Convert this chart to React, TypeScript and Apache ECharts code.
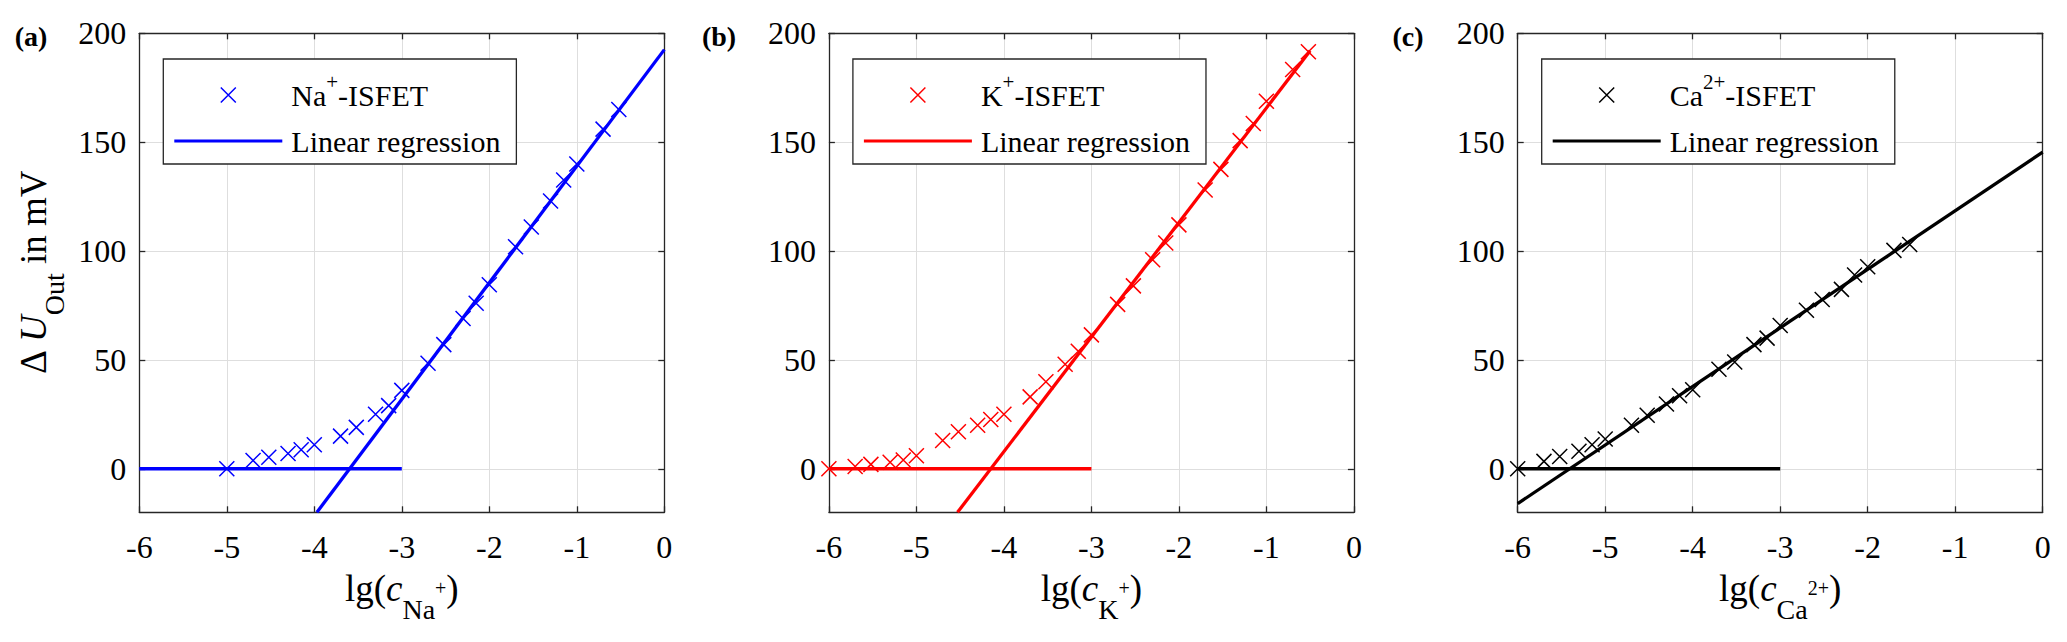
import React, { useEffect, useRef } from 'react';
import * as echarts from 'echarts';

// ---------- data ----------
const naX = [-5, -4.7, -4.52, -4.3, -4.15, -4, -3.7, -3.52, -3.3, -3.15, -3, -2.7, -2.52, -2.3, -2.15, -2, -1.7, -1.52, -1.3, -1.15, -1, -0.7, -0.52];
const naY = [0, 3.8, 5.3, 7, 8.7, 11, 15, 19, 25, 29, 36, 48.5, 57, 69, 76, 84.5, 102, 111, 123, 132.6, 140, 156, 165];

const kX = [-6, -5.7, -5.52, -5.3, -5.15, -5, -4.7, -4.52, -4.3, -4.15, -4, -3.7, -3.52, -3.3, -3.15, -3, -2.7, -2.52, -2.3, -2.15, -2, -1.7, -1.52, -1.3, -1.15, -1, -0.7, -0.52];
const kY = [0, 1, 2, 3, 4, 6, 13, 17, 20, 22.6, 25, 33, 40, 48, 54, 61.5, 75.5, 84, 96, 103.7, 112, 128, 137.5, 150.7, 158.6, 168.8, 183.4, 191.5];

const caX = [-6, -5.7, -5.52, -5.3, -5.15, -5, -4.7, -4.52, -4.3, -4.15, -4, -3.7, -3.52, -3.3, -3.15, -3, -2.7, -2.52, -2.3, -2.15, -2, -1.7, -1.52];
const caY = [0, 3.4, 5.6, 8, 11, 13.7, 20, 24.6, 29.7, 33.5, 36.3, 45.7, 49, 57, 60, 65.8, 72.8, 77.7, 82.4, 89, 92.8, 100.3, 103];

// regression line end points
const naFitX = [-3.97, 0];
const naFitY = [-20, 192.5];
const kFitX = [-4.53, -0.5];
const kFitY = [-20, 192];
const caFitX = [-6, 0];
const caFitY = [-16, 145.4];

// horizontal zero line
const baseX = [-6, -3];
const baseY = [0, 0];

// axes
const xMin = -6;
const xMax = 0;
const xStep = 1;
const yMin = -20;
const yMax = 200;
const yTicks = [0, 50, 100, 150, 200];

const panelLabels = ['(a)', '(b)', '(c)'];
const scatterNames = ['Na+-ISFET', 'K+-ISFET', 'Ca2+-ISFET'];
const fitNames = ['Linear regression (Na)', 'Linear regression (K)', 'Linear regression (Ca)'];
const baseNames = ['Zero line (Na)', 'Zero line (K)', 'Zero line (Ca)'];
const legendTexts = ['{m0|Na}{p|+}{m|-ISFET}', '{m0|K}{p|+}{m|-ISFET}', '{m0|Ca}{p|2+}{m|-ISFET}'];
const fitText = '{m0|Linear regression}';
const xTitles = [
  '{m|lg(}{i|c}{s|Na}{ss|+}{m|)}',
  '{m|lg(}{i|c}{s|K}{ss|+}{m|)}',
  '{m|lg(}{i|c}{s|Ca}{ss|2+}{m|)}',
];
const yTitle = '{m|Δ }{i|U}{s|Out}{m| in mV}';
const colors = ['#0000ff', '#ff0000', '#000000'];

// ---------- layout / style ----------
const FONT = '"Liberation Serif", "Times New Roman", serif';
const AX = '#262626';
const GRID = '#dedede';
const gridLefts = [139.3, 828.9, 1517.7];
const gridTop = 33.3;
const gridW = 525;
const gridH = 479;
const labelCenters = [31, 719, 1408];
const XPATH = 'path://M0,0L10,10M10,0L0,10';
const BARPATH = 'path://M0,0H100V3H0Z';

const pairs = (xs: number[], ys: number[]) => xs.map((x, k) => [x, ys[k]]);

const titleRich = {
  m: { fontSize: 37, lineHeight: 48, fontFamily: FONT, color: '#000' },
  i: { fontSize: 37, lineHeight: 48, fontFamily: FONT, fontStyle: 'italic', color: '#000' },
  s: { fontSize: 28, lineHeight: 48, fontFamily: FONT, color: '#000', padding: [42, 0, 0, 0] },
  ss: { fontSize: 20, lineHeight: 48, fontFamily: FONT, color: '#000' },
};

const legendRich = {
  m0: { fontSize: 30, lineHeight: 36, fontFamily: FONT, color: '#000', padding: [0, 0, 0, 4] },
  m: { fontSize: 30, lineHeight: 36, fontFamily: FONT, color: '#000' },
  p: { fontSize: 21, lineHeight: 36, fontFamily: FONT, color: '#000', padding: [0, 0, 27, 0] },
};

function buildOption() {
  const scatterData = [pairs(naX, naY), pairs(kX, kY), pairs(caX, caY)];
  const fitData = [pairs(naFitX, naFitY), pairs(kFitX, kFitY), pairs(caFitX, caFitY)];
  const baseData = pairs(baseX, baseY);

  const grid: any[] = [];
  const xAxis: any[] = [];
  const yAxis: any[] = [];
  const series: any[] = [];
  const legend: any[] = [];
  const graphic: any[] = [];

  const axisLine = { show: true, onZero: false, lineStyle: { color: AX, width: 1.3 } };
  const tickStyle = { color: AX, width: 1.3 };

  for (let i = 0; i < 3; i++) {
    grid.push({
      left: gridLefts[i],
      top: gridTop,
      width: gridW,
      height: gridH,
      containLabel: false,
      outerBoundsMode: 'none',
    });

    xAxis.push({
      type: 'value',
      gridIndex: i,
      position: 'bottom',
      min: xMin,
      max: xMax,
      interval: xStep,
      axisLine,
      axisTick: { show: true, inside: true, length: 6, lineStyle: tickStyle },
      axisLabel: { show: true, fontSize: 32, lineHeight: 32, fontFamily: FONT, color: '#000', margin: 19 },
      splitLine: { show: true, lineStyle: { color: GRID, width: 1 } },
      name: xTitles[i],
      nameLocation: 'middle',
      nameGap: 52,
      nameMoveOverlap: false,
      nameTextStyle: { fontFamily: FONT, fontSize: 37, lineHeight: 48, color: '#000', rich: titleRich },
    });
    xAxis.push({
      type: 'value',
      gridIndex: i,
      position: 'top',
      min: xMin,
      max: xMax,
      interval: xStep,
      axisLine,
      axisTick: { show: true, inside: true, length: 6, lineStyle: tickStyle },
      axisLabel: { show: false },
      splitLine: { show: false },
    });

    yAxis.push({
      type: 'value',
      gridIndex: i,
      position: 'left',
      min: yMin,
      max: yMax,
      axisLine,
      axisTick: { show: true, inside: true, length: 6, lineStyle: tickStyle, customValues: yTicks },
      axisLabel: { show: true, fontSize: 32, fontFamily: FONT, color: '#000', margin: 13, customValues: yTicks },
      splitLine: { show: true, lineStyle: { color: GRID, width: 1 } },
      name: i === 0 ? yTitle : '',
      nameLocation: 'middle',
      nameRotate: 90,
      nameGap: 82,
      nameMoveOverlap: false,
      nameTextStyle: { fontFamily: FONT, fontSize: 37, lineHeight: 48, color: '#000', rich: titleRich },
    });
    yAxis.push({
      type: 'value',
      gridIndex: i,
      position: 'right',
      min: yMin,
      max: yMax,
      axisLine,
      axisTick: { show: true, inside: true, length: 6, lineStyle: tickStyle, customValues: yTicks },
      axisLabel: { show: false, customValues: yTicks },
      splitLine: { show: false },
    });

    const c = colors[i];
    series.push({
      type: 'scatter',
      name: scatterNames[i],
      xAxisIndex: 2 * i,
      yAxisIndex: 2 * i,
      data: scatterData[i],
      symbol: XPATH,
      symbolSize: 15,
      itemStyle: { color: c, borderColor: c, borderWidth: 1.5, opacity: 1 },
      z: 3,
    });
    series.push({
      type: 'line',
      name: fitNames[i],
      xAxisIndex: 2 * i,
      yAxisIndex: 2 * i,
      data: fitData[i],
      symbol: 'none',
      clip: true,
      itemStyle: { color: c },
      lineStyle: { color: c, width: 3.3 },
      z: 4,
    });
    series.push({
      type: 'line',
      name: baseNames[i],
      xAxisIndex: 2 * i,
      yAxisIndex: 2 * i,
      data: baseData,
      symbol: 'none',
      clip: true,
      itemStyle: { color: c },
      lineStyle: { color: c, width: 3.3 },
      z: 4,
    });

    const names: Record<string, string> = {};
    names[scatterNames[i]] = legendTexts[i];
    names[fitNames[i]] = fitText;
    legend.push({
      show: true,
      left: gridLefts[i] + 24,
      top: 59,
      orient: 'vertical',
      padding: [12, 16, 5, 11],
      itemGap: 4,
      itemWidth: 108,
      itemHeight: 15,
      backgroundColor: '#ffffff',
      borderColor: AX,
      borderWidth: 1.3,
      borderRadius: 0,
      selectedMode: false,
      symbolKeepAspect: true,
      textStyle: { fontFamily: FONT, fontSize: 30, lineHeight: 36, color: '#000', rich: legendRich },
      formatter: (name: string) => names[name] ?? name,
      data: [
        { name: scatterNames[i], icon: XPATH, itemStyle: { color: c, borderColor: c, borderWidth: 1.5 } },
        { name: fitNames[i], icon: BARPATH, itemStyle: { color: c, borderWidth: 0 } },
      ],
      z: 10,
    });

    graphic.push({
      type: 'text',
      x: labelCenters[i],
      y: 36,
      style: {
        text: panelLabels[i],
        fontFamily: FONT,
        fontSize: 28,
        fontWeight: 'bold',
        fill: '#000',
        align: 'center',
        verticalAlign: 'middle',
      },
    });
  }

  return {
    animation: false,
    backgroundColor: '#ffffff',
    textStyle: { fontFamily: FONT },
    tooltip: { show: false },
    grid,
    xAxis,
    yAxis,
    series,
    legend,
    graphic,
  };
}

export default function App() {
  const ref = useRef<HTMLDivElement>(null);
  useEffect(() => {
    if (!ref.current) return;
    const chart = echarts.init(ref.current, null, { renderer: 'svg' });
    chart.setOption(buildOption() as any);
    return () => chart.dispose();
  }, []);
  return (
    <div
      ref={ref}
      style={{ position: 'absolute', left: 0, top: 0, width: 2067, height: 642, background: '#fff' }}
    />
  );
}
